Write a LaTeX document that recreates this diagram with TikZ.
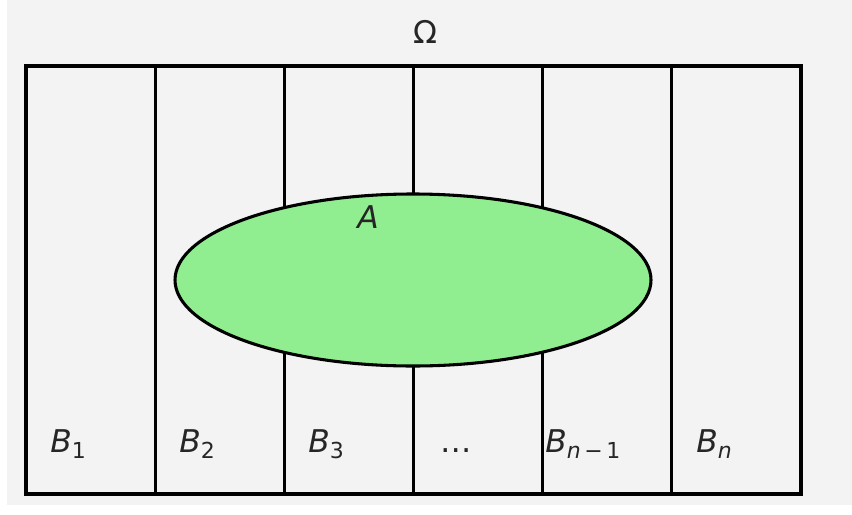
\documentclass[tikz,border=0pt]{standalone}
\usepackage{fontspec}
\setmainfont{DejaVu Sans}
\definecolor{panelgray}{HTML}{F3F3F3}
\definecolor{setgreen}{HTML}{90EE90}
\definecolor{inkgray}{HTML}{262626}
\newcommand{\lowidx}[1]{\raisebox{-4.5pt}{\fontsize{16.5}{18}\selectfont #1}}

\begin{document}
\begin{tikzpicture}[x=0.75pt,y=-0.75pt,line join=miter,
  every node/.style={inner sep=0pt,text=inkgray,font=\fontsize{23.5}{28}\selectfont},
  blabel/.style={anchor=base west}]
  \useasboundingbox (0,0) rectangle (852,514);
  \fill[panelgray] (7,0) rectangle (852,505);
  \def\xl{26}
  \def\colw{129.17}
  \draw[line width=2.3pt] (\xl,66) rectangle (801,494);
  \foreach \k in {1,...,5} {
    \draw[line width=2.3pt] ({\xl+\k*\colw},66) -- ({\xl+\k*\colw},494);
  }
  \draw[line width=2.3pt,fill=setgreen] (413,280) ellipse[x radius=238,y radius=86];
  \node[anchor=base] (omega) at (425.5,43) {Ω};
  \node[anchor=base] (seta) at (368,228) {\itshape A};
  \node[blabel] (b1) at (50,452) {\itshape B\lowidx{\upshape 1}};
  \node[blabel] (b2) at (179,452) {\itshape B\lowidx{\upshape 2}};
  \node[blabel] (b3) at (308,452) {\itshape B\lowidx{\upshape 3}};
  \node[blabel] (bdots) at (440,452) {…};
  \node[blabel] (bnm) at (545,452) {\itshape B\lowidx{n\,\upshape −\,1}};
  \node[blabel] (bn) at (696,452) {\itshape B\lowidx{n}};
\end{tikzpicture}
\end{document}
